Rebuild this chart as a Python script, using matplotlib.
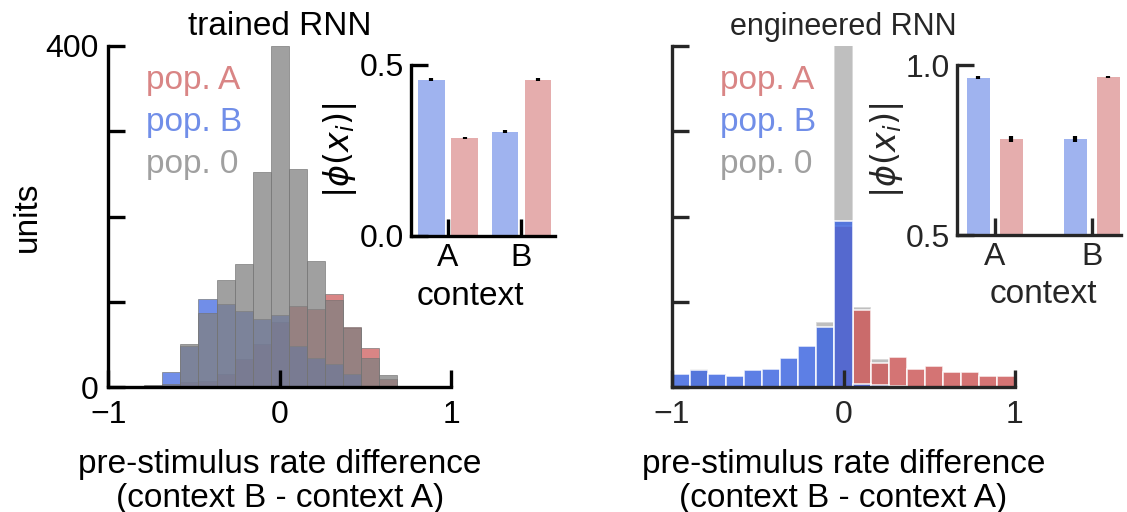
import numpy as np
import matplotlib
matplotlib.use("Agg")
import matplotlib.pyplot as plt

plt.rcParams['font.family'] = ['Liberation Sans', 'DejaVu Sans']
plt.rcParams['mathtext.fontset'] = 'dejavusans'
plt.rcParams['font.size'] = 24

# histogram bins shared by both panels
bin_edges = np.linspace(-1, 1, 20)

# trained RNN: unit counts per bin
trained_pop_a = [0, 0, 0, 0, 6, 7, 16, 33, 51, 76, 95, 92, 109, 71, 46, 10, 0, 0, 0]
trained_pop_b = [0, 0, 0, 18, 48, 104, 98, 89, 80, 85, 48, 34, 27, 15, 2, 0, 0, 0, 0]
trained_pop_0 = [0, 0, 3, 4, 51, 87, 126, 144, 252, 400, 256, 148, 102, 70, 34, 14, 0, 0, 0]

# engineered RNN: unit counts per bin
eng_pop_a = [0, 0, 0, 0, 0, 0, 0, 0, 0, 189, 90, 29, 35, 21, 25, 18, 18, 13, 13]
eng_pop_b = [15, 20, 16, 13, 20, 22, 34, 48, 71, 195, 4, 3, 2, 0, 0, 0, 0, 0, 0]
eng_pop_0 = [0, 22, 0, 0, 0, 0, 0, 0, 76, 430, 94, 33, 0, 0, 0, 0, 0, 0, 0]

# insets: |phi(x_i)| per context
contexts = ['A', 'B']
trained_phi_b = [0.457, 0.305]
trained_phi_a = [0.287, 0.457]
trained_err_b = [0.004, 0.004]
trained_err_a = [0.003, 0.004]
eng_phi_b = [0.963, 0.782]
eng_phi_a = [0.782, 0.965]
eng_err_b = [0.004, 0.008]
eng_err_a = [0.009, 0.004]

BLUE = 'royalblue'
RED = 'indianred'
GRAY = 'gray'


def style_axes(ax, color):
    for s in ['top', 'right']:
        ax.spines[s].set_visible(False)
    for s in ['left', 'bottom']:
        ax.spines[s].set_linewidth(2.4)
        ax.spines[s].set_color(color)
    ax.tick_params(direction='in', length=12, width=2.4, color=color,
                   labelcolor=color, pad=7, labelsize=23)


def draw_inset(ax, phi_b, phi_a, err_b, err_a, ylim, xlim, off, width, label_xy, color):
    x = np.arange(len(contexts))
    ax.bar(x - off, phi_b, width=width, color=BLUE, alpha=0.5, linewidth=0)
    ax.bar(x + off, phi_a, width=width, color=RED, alpha=0.5, linewidth=0)
    ax.errorbar(x - off, phi_b, yerr=err_b, fmt='none', ecolor='k', elinewidth=3, capsize=0)
    ax.errorbar(x + off, phi_a, yerr=err_a, fmt='none', ecolor='k', elinewidth=3, capsize=0)
    ax.set_xlim(*xlim)
    ax.set_ylim(*ylim)
    ax.set_yticks(list(ylim))
    ax.set_yticklabels([f'{v:.1f}' for v in ylim])
    ax.set_xticks(x)
    ax.set_xticklabels(contexts)
    style_axes(ax, color)
    ax.tick_params(pad=5)
    ax.set_xlabel('context', color=color)
    ax.xaxis.set_label_coords(*label_xy, transform=ax.transAxes)
    ax.xaxis.label.set_va('top')
    ax.set_ylabel(r'$|\phi(x_i)|$', color=color, labelpad=0)


fig = plt.figure(figsize=(11.27, 5.12), dpi=100)

xlab = 'pre-stimulus rate difference\n(context B - context A)'

# ---- trained RNN ----
ax1 = fig.add_axes([0.0961, 0.2436, 0.3041, 0.6666])
for counts, c in [(trained_pop_a, RED), (trained_pop_b, BLUE), (trained_pop_0, GRAY)]:
    ax1.bar(bin_edges[:-1], counts, width=np.diff(bin_edges), align='edge',
            color=c, alpha=0.75, edgecolor=(0.45, 0.45, 0.45, 0.5), linewidth=0.6)
ax1.set_xlim(-1, 1)
ax1.set_ylim(0, 400)
ax1.set_xticks([-1, 0, 1])
ax1.set_xticklabels(['\u22121', '0', '1'])
ax1.set_yticks([0, 100, 200, 300, 400])
ax1.set_yticklabels(['0', '', '', '', '400'])
style_axes(ax1, 'black')
ax1.tick_params(axis='x', pad=9)
ax1.set_ylabel('units', labelpad=2)
ax1.set_xlabel(xlab, labelpad=14, linespacing=1.1)
ax1.set_title('trained RNN', pad=8, fontsize=24)
for i, (lab, c) in enumerate([('pop. A', RED), ('pop. B', BLUE), ('pop. 0', GRAY)]):
    ax1.text(0.11, 0.875 - i * 0.124, lab, color=c, alpha=0.75, transform=ax1.transAxes,
             fontsize=24, va='baseline')

ins1 = fig.add_axes([410.5 / 1127, 0.5391, 144 / 1127, 0.334])
draw_inset(ins1, trained_phi_b, trained_phi_a, trained_err_b, trained_err_a,
           (0.0, 0.5), (-0.51, 1.45), 0.225, 0.36, (0.414, -0.265), 'black')

# ---- engineered RNN ----
DARK = '#262626'
ax2 = fig.add_axes([0.5963, 0.2436, 0.3043, 0.6666])
ax2.bar(bin_edges[:-1], eng_pop_0, width=np.diff(bin_edges), align='edge',
        color=GRAY, alpha=0.5, edgecolor='white', linewidth=1.2)
ax2.bar(bin_edges[:-1], eng_pop_a, width=np.diff(bin_edges), align='edge',
        color=RED, alpha=0.85, edgecolor='white', linewidth=1.2)
ax2.bar(bin_edges[:-1], eng_pop_b, width=np.diff(bin_edges), align='edge',
        color=BLUE, alpha=0.85, edgecolor='white', linewidth=1.2)
ax2.set_xlim(-1, 1)
ax2.set_ylim(0, 400)
ax2.set_xticks([-1, 0, 1])
ax2.set_xticklabels(['\u22121', '0', '1'])
ax2.set_yticks([0, 100, 200, 300, 400])
ax2.set_yticklabels([])
style_axes(ax2, DARK)
ax2.tick_params(axis='x', pad=9)
ax2.set_xlabel(xlab, labelpad=14, linespacing=1.1, color='black')
ax2.set_title('engineered RNN', pad=8, fontsize=22, color=DARK)
for i, (lab, c) in enumerate([('pop. A', RED), ('pop. B', BLUE), ('pop. 0', GRAY)]):
    ax2.text(0.14, 0.875 - i * 0.124, lab, color=c, alpha=0.75, transform=ax2.transAxes,
             fontsize=24, va='baseline')

ins2 = fig.add_axes([956.7 / 1127, 0.541, 164 / 1127, 0.332])
draw_inset(ins2, eng_phi_b, eng_phi_a, eng_err_b, eng_err_a,
           (0.5, 1.0), (-0.395, 1.3), 0.17, 0.24, (0.526, -0.26), DARK)

fig.savefig('out.png', dpi=100)
